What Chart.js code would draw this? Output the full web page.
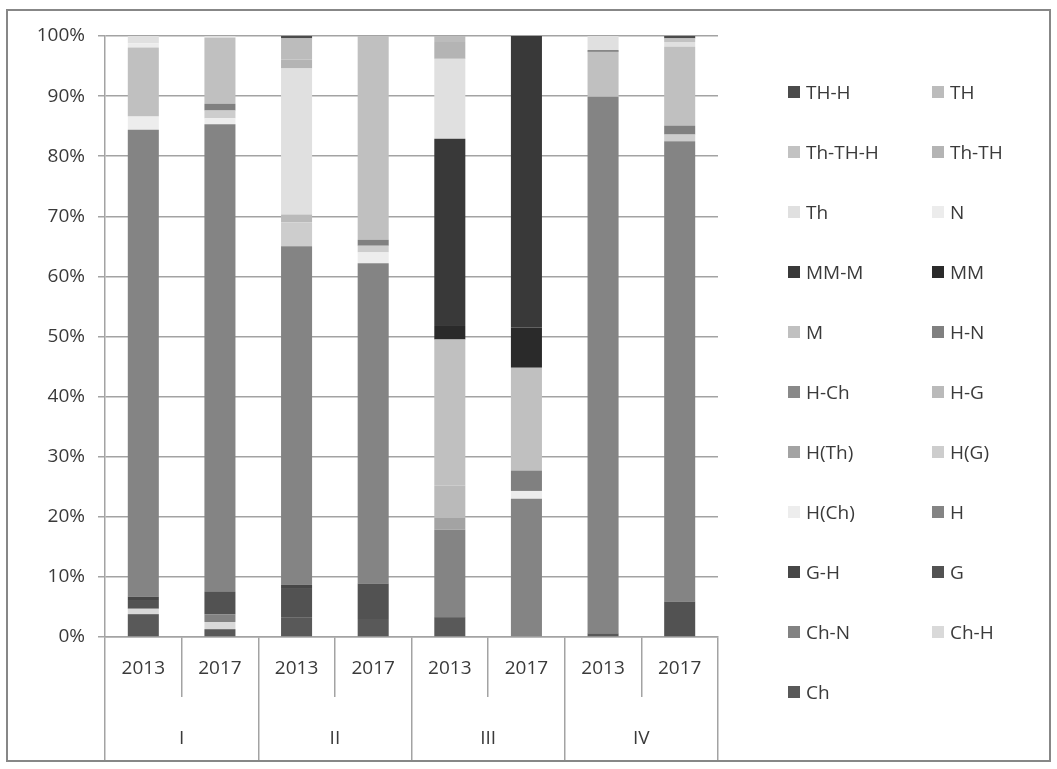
<!DOCTYPE html>
<html>
<head>
<meta charset="utf-8">
<script src="https://cdn.jsdelivr.net/npm/chart.js@4.4.1/dist/chart.umd.min.js"></script>
<style>
  html, body { margin: 0; padding: 0; background: #fff; }
  #wrap { position: relative; width: 1057px; height: 769px; }
  #frame { position: absolute; left: 6px; top: 9px; width: 1041px; height: 749px; border: 2px solid #878787; pointer-events: none; }
  #legend { position: absolute; left: 0; top: 0; font-family: "Open Sans", sans-serif; font-size: 19px; color: #3a3a3a; }
  .lg-item { position: absolute; white-space: nowrap; line-height: 24px; }
  .lg-box { position: absolute; width: 12px; height: 12px; top: 6px; left: 0; }
  .lg-text { position: absolute; left: 18px; top: 0; }
</style>
</head>
<body>
<div id="wrap">
  <canvas id="chart" width="1057" height="769"></canvas>
  <div id="legend"></div>
  <div id="frame"></div>
</div>
<script>
// categories
const years  = ['2013', '2017', '2013', '2017', '2013', '2017', '2013', '2017'];
const groups = ['I', 'II', 'III', 'IV'];
const yTicks = [0, 10, 20, 30, 40, 50, 60, 70, 80, 90, 100];

// shares in % per bar (I-2013, I-2017, II-2013, II-2017, III-2013, III-2017, IV-2013, IV-2017)
const ch      = [3.8, 1.3, 3.2, 3.0, 3.3, 0, 0.6, 0];
const chH     = [0.9, 1.2, 0, 0, 0, 0, 0, 0];
const chN     = [0, 1.3, 0, 0, 0, 0, 0, 0];
const g       = [1.3, 3.7, 4.8, 5.9, 0, 0, 0, 5.9];
const gH      = [0.7, 0, 0.7, 0, 0, 0, 0, 0];
const h       = [77.7, 77.8, 56.3, 53.3, 14.6, 23.0, 89.3, 76.6];
const hCh     = [2.2, 1.0, 0, 1.8, 0, 1.3, 0, 0];
const hG      = [0, 1.3, 4.0, 1.1, 0, 0, 0, 1.1];
const hTh     = [0, 0, 0, 0, 1.9, 0, 0, 0];
const hDashG  = [0, 0, 1.3, 0, 5.4, 0, 0, 0];
const hDashCh = [0, 0, 0, 0, 0, 0, 0, 0];
const hDashN  = [0, 1.1, 0, 1.0, 0, 3.4, 0, 1.5];
const m       = [11.5, 11.0, 0, 33.9, 24.3, 17.1, 7.5, 13.1];
const mm      = [0, 0, 0, 0, 2.4, 6.7, 0, 0];
const mmM     = [0, 0, 0, 0, 31.0, 48.5, 0.2, 0];
const n       = [0.7, 0, 0, 0, 0, 0, 0, 0];
const th      = [1.2, 0.3, 24.3, 0, 13.3, 0, 2.4, 0.8];
const thTH    = [0, 0, 1.5, 0, 2.8, 0, 0, 0];
const thTHH   = [0, 0, 0, 0, 0, 0, 0, 0.6];
const TH      = [0, 0, 3.5, 0, 1.0, 0, 0, 0];
const THH     = [0, 0, 0.4, 0, 0, 0, 0, 0.4];

// bottom of the stack first
const series = [
  ['Ch', ch, '#595959'],
  ['Ch-H', chH, '#d9d9d9'],
  ['Ch-N', chN, '#828282'],
  ['G', g, '#525252'],
  ['G-H', gH, '#474747'],
  ['H', h, '#848484'],
  ['H(Ch)', hCh, '#ededed'],
  ['H(G)', hG, '#cdcdcd'],
  ['H(Th)', hTh, '#a3a3a3'],
  ['H-G', hDashG, '#bababa'],
  ['H-Ch', hDashCh, '#898989'],
  ['H-N', hDashN, '#808080'],
  ['M', m, '#c0c0c0'],
  ['MM', mm, '#2a2a2a'],
  ['MM-M', mmM, '#393939'],
  ['N', n, '#ececec'],
  ['Th', th, '#e0e0e0'],
  ['Th-TH', thTH, '#b4b4b4'],
  ['Th-TH-H', thTHH, '#c2c2c2'],
  ['TH', TH, '#bcbcbc'],
  ['TH-H', THH, '#4b4b4b']
];

const FONT = { family: '"Open Sans", sans-serif', size: 19 };
const TXT = '#3a3a3a';
const GRID = '#a3a3a3';

const chart = new Chart(document.getElementById('chart'), {
  type: 'bar',
  data: {
    labels: years,
    datasets: series.map(function(s) {
      return { label: s[0], data: s[1], backgroundColor: s[2], borderWidth: 0,
               barPercentage: 0.405, categoryPercentage: 1 };
    })
  },
  options: {
    responsive: false,
    animation: false,
    layout: { padding: { left: 7, right: 339, top: 36, bottom: 9 } },
    plugins: { legend: { display: false }, tooltip: { enabled: false } },
    scales: {
      x: {
        stacked: true,
        weight: 0,
        grid: { display: true, drawOnChartArea: false, offset: true, tickLength: 60, color: GRID, lineWidth: 1.5 },
        border: { display: true, color: GRID, width: 1.5 },
        ticks: { font: FONT, color: TXT, padding: -40, maxRotation: 0, autoSkip: false },
        afterFit: function(s) { s.height = 60; }
      },
      x2: {
        type: 'category',
        labels: groups,
        position: 'bottom',
        offset: true,
        weight: 1,
        grid: { display: true, drawOnChartArea: false, offset: true, tickLength: 63, color: GRID, lineWidth: 1.5 },
        border: { display: false },
        ticks: { font: FONT, color: TXT, padding: -33, maxRotation: 0 },
        afterFit: function(s) { s.height = 63; }
      },
      y: {
        stacked: true,
        min: 0,
        max: 100,
        afterBuildTicks: function(s) { s.ticks = yTicks.map(function(v){ return { value: v }; }); },
        grid: { color: GRID, tickLength: 7, lineWidth: 1.5 },
        border: { display: true, color: GRID, width: 1.5 },
        ticks: { font: FONT, color: TXT, padding: 13, callback: function(v){ return v + '%'; } },
        afterFit: function(s) { s.width = 98; }
      }
    }
  }
});

// legend: two columns, row by row, top of stack first
var legendHtml = '';
chart.data.datasets.slice().reverse().forEach(function(ds, i) {
  var row = Math.floor(i / 2), col = i % 2;
  var left = col === 0 ? 788 : 932;
  var top  = 80 + row * 60;
  legendHtml += '<div class="lg-item" style="left:' + left + 'px;top:' + top + 'px">' +
    '<span class="lg-box" style="background:' + ds.backgroundColor + '"></span>' +
    '<span class="lg-text">' + ds.label + '</span></div>';
});
document.getElementById('legend').innerHTML = legendHtml;
</script>
</body>
</html>
